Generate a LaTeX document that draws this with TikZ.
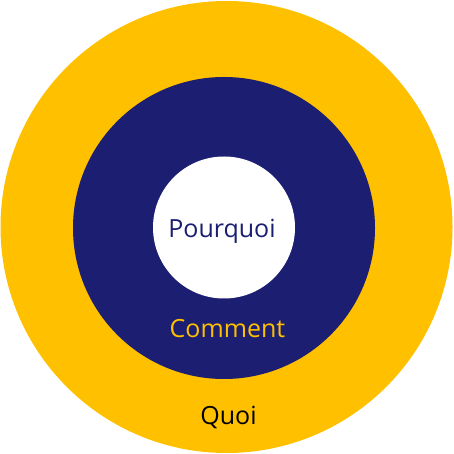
\documentclass[tikz,border=0pt]{standalone}
\usepackage{fontspec}
\setmainfont{Open Sans}
\definecolor{ringyellow}{HTML}{FFC000}
\definecolor{ringblue}{HTML}{1B1E71}
\tikzset{
  ring/.style={circle, inner sep=0pt, draw=none},
  lbl/.style={anchor=base, inner sep=0pt, font=\fontsize{25}{29}\selectfont}
}
\begin{document}
\begin{tikzpicture}[x=1pt,y=1pt]
\useasboundingbox (0,0) rectangle (453,454);
\node[ring, fill=ringyellow, minimum size=452pt] (quoi) at (226.5,227) {};
\node[ring, fill=ringblue, minimum size=302pt] (comment) at (224,226) {};
\node[ring, fill=white, minimum size=142pt] (pourquoi) at (224,226.5) {};
\node[lbl, text=ringblue] (tp) at (222,216) {Pourquoi};
\node[lbl, text=ringyellow] (tc) at (227.5,116) {Comment};
\node[lbl, text=black] (tq) at (228.5,29.5) {Quoi};
\end{tikzpicture}
\end{document}
